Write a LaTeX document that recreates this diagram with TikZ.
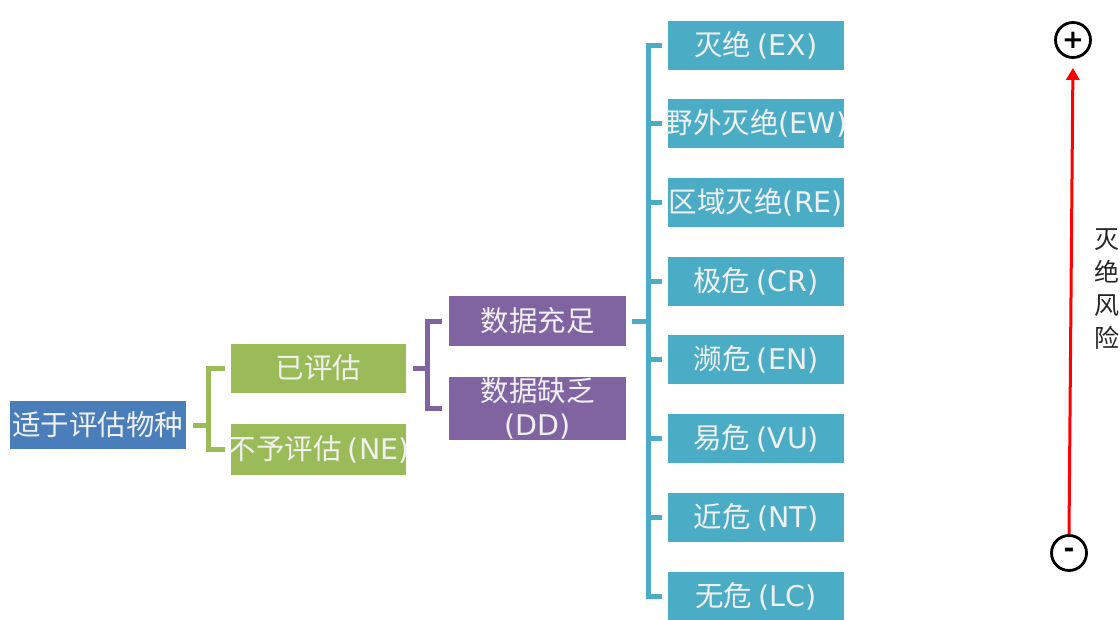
\documentclass[tikz,border=0pt]{standalone}
\usepackage{fontspec}
\setmainfont{Noto Sans CJK SC}
\newfontfamily\cjk{Noto Sans CJK SC}
\newfontfamily\lat{DejaVu Sans}
\newcommand\lt[1]{{\lat #1}}
\newcommand\wide[1]{\makebox[0pt]{#1}}
\usetikzlibrary{arrows.meta}
\definecolor{cblue}{HTML}{4A7EBB}
\definecolor{cgreen}{HTML}{9BBB59}
\definecolor{cpurple}{HTML}{8064A2}
\definecolor{cteal}{HTML}{4BACC6}
\tikzset{
  box/.style={rectangle, inner sep=0pt, text=white!94!black, font=\cjk\fontsize{28.5}{34}\selectfont, align=center},
  rootbox/.style={box, fill=cblue, minimum width=176pt, minimum height=48pt},
  gbox/.style={box, fill=cgreen, minimum width=175pt, minimum height=49pt},
  pbox/.style={box, fill=cpurple, minimum width=177pt},
  tbox/.style={box, fill=cteal, minimum width=176pt, minimum height=49pt},
  gconn/.style={draw=cgreen, line width=5pt},
  pconn/.style={draw=cpurple, line width=5pt},
  tconn/.style={draw=cteal, line width=5pt},
  sign/.style={circle, draw=black, line width=2.8pt, minimum size=35pt, inner sep=0pt, font=\lat\bfseries\fontsize{26}{26}\selectfont},
}
\begin{document}
\begin{tikzpicture}[x=1pt,y=-1pt]
\useasboundingbox (0,0) rectangle (1120,619);
\fill[white] (0,0) rectangle (1120,619);

% nodes
\node[rootbox] (root) at (98,425) {适于评估物种};
\node[gbox] (ya) at (318.5,368) {已评估};
\node[gbox, minimum height=51pt] (ne) at (318.5,449.5) {\wide{不予评估 \lt{(NE)}}};
\node[pbox, minimum height=50pt] (suff) at (537.5,321) {数据充足};
\node[pbox, minimum height=63pt] (dd) at (537.5,408.5) {数据缺乏\\\lt{(DD)}};

\node[tbox] (ex) at (756,45) {灭绝 \lt{(EX)}};
\node[tbox] (ew) at (756,123.7) {\wide{野外灭绝\lt{(EW)}}};
\node[tbox] (re) at (756,202.4) {\wide{区域灭绝\lt{(RE)}}};
\node[tbox] (cr) at (756,281.1) {极危 \lt{(CR)}};
\node[tbox] (en) at (756,359.8) {濒危 \lt{(EN)}};
\node[tbox] (vu) at (756,438.5) {易危 \lt{(VU)}};
\node[tbox] (nt) at (756,517.2) {近危 \lt{(NT)}};
\node[tbox] (lc) at (756,596) {无危 \lt{(LC)}};

% bracket joints
\coordinate (gb) at (208,425);
\coordinate (pb) at (427,368);
\coordinate (tb) at (648,321);

% green bracket
\draw[gconn, shorten <=7pt] (root.east) -- (gb);
\draw[gconn, shorten <=6pt] (ya.west) -| (gb);
\draw[gconn, shorten <=6pt] (ne.west) -| (gb);

% purple bracket
\draw[pconn, shorten <=7pt] (ya.east) -- (pb);
\draw[pconn, shorten <=7pt] (suff.west) -| (pb);
\draw[pconn, shorten <=7pt] (dd.west) -| (pb);

% teal bracket
\draw[tconn, shorten <=6pt] (suff.east) -- (tb);
\foreach \n in {ex,ew,re,cr,en,vu,nt,lc}{
  \draw[tconn, shorten <=6pt] (\n.west) -| (tb);
}

% risk scale
\node[sign] (plus) at (1073,40) {+};
\node[sign] (minus) at (1069,553) {-};
\draw[red, line width=3pt, -{Triangle[length=12pt,width=13pt]}, shorten >=9pt] (minus.north) -- (plus.south);
\node[font=\cjk\fontsize{25}{33}\selectfont, align=center, text=black!85] (risk) at (1107,289) {灭\\绝\\风\\险};
\end{tikzpicture}
\end{document}
